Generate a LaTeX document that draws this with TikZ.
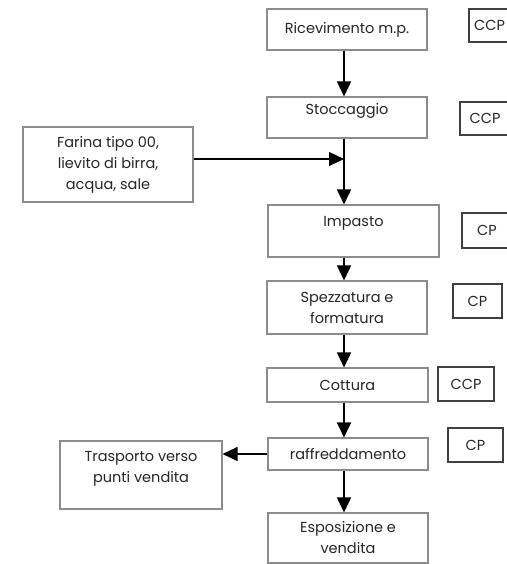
\documentclass[tikz,border=0pt]{standalone}
\usepackage{fontspec}
\setmainfont{Poppins}
\usetikzlibrary{arrows.meta}
\begin{document}
\begin{tikzpicture}[x=1pt,y=-1pt,
  txt/.style={font=\fontsize{14.5}{21}\selectfont, text=black!85, align=center},
  box/.style={draw=black!45, line width=1.1pt, fill=white, inner sep=0pt, txt},
  cbox/.style={draw=black!75, line width=1.6pt, fill=white, inner sep=0pt, txt},
  arr/.style={line width=1.7pt, -{Triangle[length=15pt,width=14pt]}},
  thinarr/.style={line width=1.1pt, -{Triangle[length=15pt,width=14pt]}}
]
\useasboundingbox (0,0) rectangle (506,564);
\coordinate (spine) at (344,0);
% main process boxes
\node[box, minimum width=160, minimum height=41] (ric) at (347,29.5) {Ricevimento m.p.};
\node[box, minimum width=160, minimum height=41, label={[yshift=7pt, txt]center:Stoccaggio}] (sto) at (347,117.5) {};
\node[box, minimum width=170, minimum height=75] (far) at (108,164.5) {Farina tipo 00,\\lievito di birra,\\acqua, sale};
\node[box, minimum width=171, minimum height=52, label={[yshift=8pt, txt]center:Impasto}] (imp) at (353.5,231) {};
\node[box, minimum width=160, minimum height=53] (spez) at (347,307.5) {Spezzatura e\\formatura};
\node[box, minimum width=161, minimum height=34] (cot) at (347.5,385) {Cottura};
\node[box, minimum width=160, minimum height=32] (raf) at (348,454) {raffreddamento};
\node[box, minimum width=162, minimum height=68, label={[yshift=6pt, txt]center:Trasporto verso\\punti vendita}] (tras) at (141,475) {};
\node[box, minimum width=160, minimum height=50] (espo) at (348,538) {Esposizione e\\vendita};
% control point boxes
\node[cbox, minimum width=41, minimum height=33] (ccpa) at (489.5,25.5) {CCP};
\node[cbox, minimum width=50, minimum height=33] (ccpb) at (485,118.5) {CCP};
\node[cbox, minimum width=50, minimum height=35] (cpa) at (487,230.5) {CP};
\node[cbox, minimum width=49, minimum height=34] (cpb) at (477.5,301) {CP};
\node[cbox, minimum width=56, minimum height=34] (ccpc) at (466,384) {CCP};
\node[cbox, minimum width=55, minimum height=34] (cpc) at (475.5,445) {CP};
% connectors
\coordinate (join) at (344,159);
\draw[arr] (ric.south -| spine) -- (sto.north -| spine);
\draw[arr] (sto.south -| spine) -- (imp.north -| spine);
\draw[thinarr] (far.east |- join) -- (join);
\draw[arr] (imp.south -| spine) -- (spez.north -| spine);
\draw[arr] (spez.south -| spine) -- (cot.north -| spine);
\draw[arr] (cot.south -| spine) -- (raf.north -| spine);
\draw[thinarr] (raf.west) -- (tras.east |- raf.west);
\draw[arr] (raf.south -| spine) -- (espo.north -| spine);
\end{tikzpicture}
\end{document}
